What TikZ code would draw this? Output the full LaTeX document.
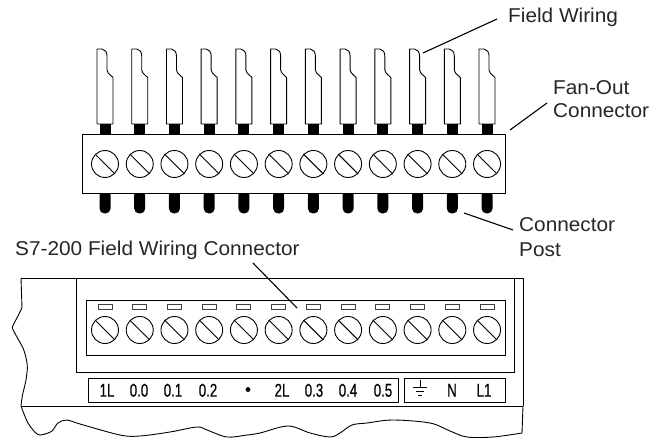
\documentclass[tikz,border=0pt]{standalone}
\usepackage{fontspec}
\setmainfont{Liberation Sans}
\newfontfamily\lblfont[FakeStretch=1.04]{Liberation Sans}
\newfontfamily\narrowfont[FakeStretch=0.72,FakeBold=0.5]{Liberation Sans}
\tikzset{
  ln/.style={line width=0.9pt,black},
  block/.style={ln,draw,fill=white,rectangle,inner sep=0pt,anchor=north west},
  leader/.style={line width=1.1pt,black},
  callout/.style={anchor=base west,inner sep=0pt,font=\lblfont\fontsize{20}{23}\selectfont,text=black!85},
  term/.style={anchor=base,inner sep=0pt,font=\narrowfont\fontsize{18.5}{18}\selectfont},
  slotbox/.style={line width=1pt,draw=black!75,fill=white},
  screwhead/.style={ln,draw,circle,fill=white,minimum size=27pt,inner sep=0pt},
  wirepart/.style={ln,draw,fill=white,line join=round},
}
\begin{document}
\begin{tikzpicture}[x=1pt,y=-1pt]
\useasboundingbox (0,0) rectangle (650,438);
% --- upper connector: wires and posts
\foreach \i in {0,...,11}{
  \pgfmathsetmacro{\cx}{105+34.73*\i}
  \begin{scope}[shift={(\cx,0)}]
    \fill[black] (-5.5,120) rectangle (5.5,136);
    \fill[black,rounded corners=5pt] (-5.5,190) -- (-5.5,213.5) -- (5.5,213.5) -- (5.5,190) -- cycle;
    \path[wirepart] (-8,124) -- (-8,49) -- (-3,49) .. controls (0,49.5) and (2,52) .. (2,56)
      -- (2,70) .. controls (2,72) and (3,73) .. (8,77.5) -- (8,124) -- cycle;
  \end{scope}
}
\node[block,minimum width=423pt,minimum height=59pt] (fan) at (82,134) {};
\foreach \i in {0,...,11}{
  \pgfmathsetmacro{\cx}{105+34.73*\i}
  \node[screwhead] (fs\i) at (\cx,164) {};
  \draw[ln] (fs\i.135) -- (fs\i.-45);
}
% --- lower unit outline
\draw[ln] (21,278) -- (523,278) -- (523,406);
\draw[ln] (21,406.5) -- (523,406.5);
\draw[ln] (76,278) -- (76,372) -- (514,372) -- (514,278);
\draw[ln,rounded corners=1pt] (21,278) -- (22,308) -- (12,327.5)
  .. controls (16,336) and (20,342) .. (23,348)
  .. controls (26,356) and (28,365) .. (27,372)
  .. controls (26,385) and (22,392) .. (21,406);
\draw[ln] plot[smooth,tension=0.55] coordinates {(21,406) (28,423) (37,434) (43,434.5) (52,431) (58,423) (67,420) (80,424) (120,435) (140,436) (170,432) (197,427) (207,430) (227,437) (247,435) (260,433) (288,426) (310,433) (330,437) (340,433) (352,425) (367,423) (393,420) (430,423) (450,431) (467,437) (493,437) (522,433)} -- (523,406);
% --- lower terminal block
\node[block,minimum width=419pt,minimum height=54.5pt] (blk) at (86,300) {};
\foreach \i in {0,...,11}{
  \pgfmathsetmacro{\cx}{105+34.73*\i}
  \node[screwhead] (ls\i) at (\cx,330) {};
  \draw[ln] (ls\i.135) -- (ls\i.-45);
  \draw[slotbox] (\cx-7,304) rectangle (\cx+7,309);
}
% --- label strips
\node[block,line width=1pt,minimum width=310pt,minimum height=24pt] (strip1) at (87.5,377.7) {};
\node[block,line width=1pt,minimum width=101pt,minimum height=24pt] (strip2) at (404,377.7) {};
\foreach \t/\x in {1L/107,0.0/139,0.1/173,0.2/208,2L/282,0.3/314,0.4/348,0.5/383,N/452,L1/484}{
  \node[term] at (\x,396.7) {\t};
}
\fill[black] (248,389.5) circle (2.4pt);
\draw[line width=0.9pt] (420,380) -- (420,387) (413,387) -- (427,387) (416,391) -- (424,391) (418,395) -- (422,395);
% --- callouts
\node[callout] (lfw) at (508,23) {Field Wiring};
\node[callout] (lfo) at (553,95) {\vtop{\baselineskip=23pt\lineskiplimit=-20pt\hbox{Fan-Out}\hbox{Connector}}};
\node[callout] (lcp) at (519,232) {\vtop{\baselineskip=25pt\lineskiplimit=-20pt\hbox{Connector}\hbox{Post}}};
\node[callout] (ls7) at (15,255) {S7-200 Field Wiring Connector};
\coordinate (a1) at (497,19);
\coordinate (a2) at (423,53);
\coordinate (b1) at (547,103);
\coordinate (b2) at (510,130);
\coordinate (c1) at (513,230);
\coordinate (c2) at (464,213);
\coordinate (d1) at (253,263);
\coordinate (d2) at (297,308);
\draw[leader] (a1) -- (a2);
\draw[leader] (b1) -- (b2);
\draw[leader] (c1) -- (c2);
\draw[leader] (d1) -- (d2);
\end{tikzpicture}
\end{document}
